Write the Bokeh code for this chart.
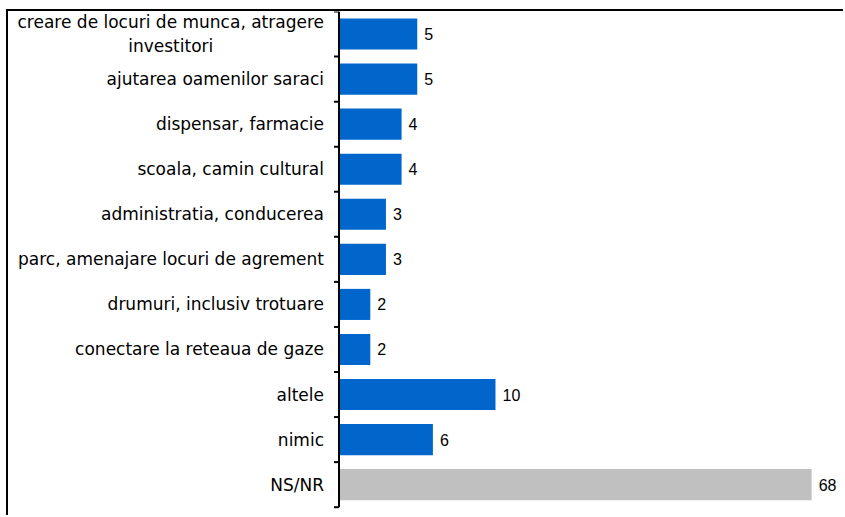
from bokeh.plotting import figure
from bokeh.models import ColumnDataSource, Range1d
from bokeh.core.properties import value
from bokeh.embed import file_html
from bokeh.resources import INLINE

# ---- data ----
categories = [
    "creare de locuri de munca, atragere\ninvestitori",
    "ajutarea oamenilor saraci",
    "dispensar, farmacie",
    "scoala, camin cultural",
    "administratia, conducerea",
    "parc, amenajare locuri de agrement",
    "drumuri, inclusiv trotuare",
    "conectare la reteaua de gaze",
    "altele",
    "nimic",
    "NS/NR",
]
values = [5, 5, 4, 4, 3, 3, 2, 2, 10, 6, 68]

# ---- layout / style ----
W, H = 837, 506
PX_PER_UNIT = 15.65          # horizontal scale
AXIS_X = 330.5               # canvas x of the value axis
BAND = 45.07                 # px per category row
TOP_PAD, BOT_PAD = 0.0, 10.3 # px
BREAK_AT = 30.2              # bars longer than this are drawn truncated (broken axis)
BLUE, GREY = "#0066CC", "#C0C0C0"

n = len(categories)
ys = [n - 1 - i for i in range(n)]
shown = [min(v, BREAK_AT) for v in values]
colors = [GREY if c == "NS/NR" else BLUE for c in categories]

x_start = -AXIS_X / PX_PER_UNIT
x_end = x_start + W / PX_PER_UNIT
y_start = -0.5 - BOT_PAD / BAND
y_end = (n - 0.5) + TOP_PAD / BAND

p = figure(width=W, height=H, output_backend="svg", toolbar_location=None,
           x_range=Range1d(x_start, x_end), y_range=Range1d(y_start, y_end),
           x_axis_location=None, y_axis_location=None,
           min_border=0, min_border_left=0, min_border_right=0,
           min_border_top=0, min_border_bottom=0,
           outline_line_color=None, background_fill_color="white",
           border_fill_color="white",
           styles={"margin-left": "6px", "margin-top": "9px",
                   "border-left": "2px solid #000", "border-top": "2px solid #000"})
p.grid.visible = False

src = ColumnDataSource(dict(y=ys, cat=categories, val=values, shown=shown,
                            color=colors, lab=[str(v) for v in values]))

p.hbar(y="y", left=0, right="shown", height=0.69, fill_color="color",
       line_color=None, source=src)

# value axis line and ticks at category boundaries
tick = 5 / PX_PER_UNIT
bounds = [k - 0.5 for k in range(n + 1)]
p.segment(x0=0, y0=-0.5, x1=0, y1=y_end, line_color="black", line_width=2)
p.segment(x0=[-tick] * len(bounds), y0=bounds, x1=[0] * len(bounds), y1=bounds,
          line_color="black", line_width=2)

# category labels
p.text(x=0, y="y", text="cat", source=src, x_offset=-15,
       anchor="center_right", text_align="center", text_baseline="middle",
       text_font=value("DejaVu Sans"), text_font_size="17px",
       text_color="black", text_line_height=1.2)

# value labels
p.text(x="shown", y="y", text="lab", source=src, x_offset=7,
       text_align="left", text_baseline="middle",
       text_font=value("Liberation Sans"), text_font_size="16px",
       text_color="black")

open("out.html", "w").write(file_html(p, INLINE))
